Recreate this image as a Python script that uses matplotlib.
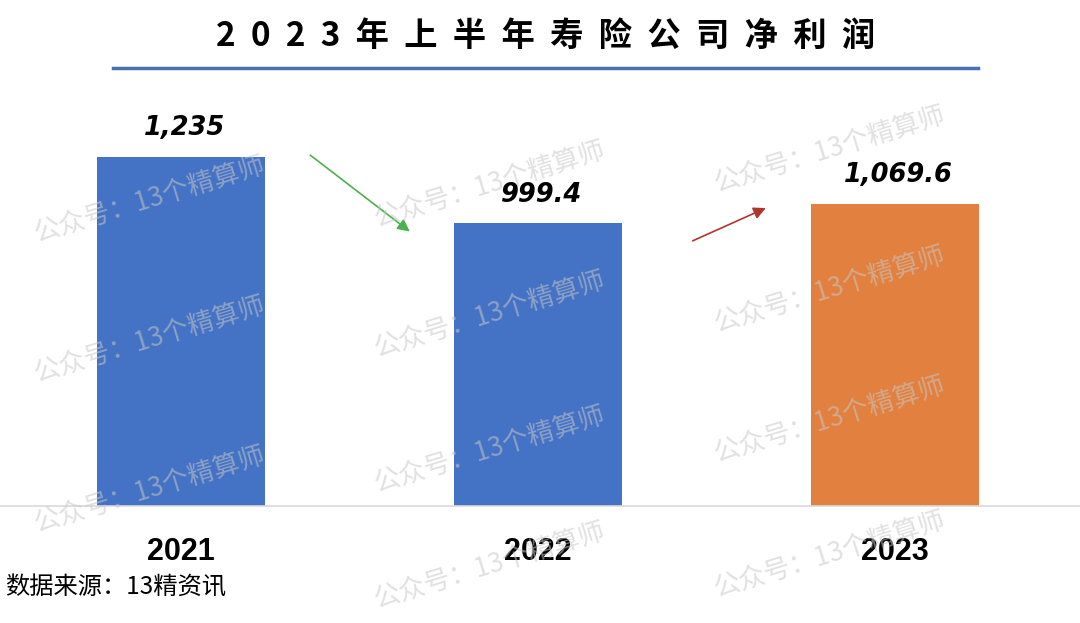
import matplotlib.pyplot as plt

plt.rcParams['font.family'] = ['Noto Sans CJK SC', 'DejaVu Sans']

# 数据
years = ["2021", "2022", "2023"]
profits = [1235, 999.4, 1069.6]
value_labels = ["1,235", "999.4", "1,069.6"]
bar_colors = ["#4472C4", "#4472C4", "#E2803F"]

title = "2023年上半年寿险公司净利润"
source = "数据来源：13精资讯"
watermark = "公众号：13个精算师"

fig = plt.figure(figsize=(10.8, 6.23), dpi=100)
ax = fig.add_axes([0, 117 / 623, 1, 426 / 623])

x = list(range(len(years)))
ax.bar(x, profits, width=0.47, color=bar_colors, zorder=2)
ax.set_xlim(-0.507, 2.518)
ax.set_ylim(0, 1507)

for xi, v, lab in zip(x, profits, value_labels):
    ax.text(xi + 0.01, v + 55, lab, ha="center", va="bottom", fontsize=18.5,
            fontweight="bold", fontstyle="italic", family="DejaVu Sans", zorder=4)

for s in ["top", "left", "right"]:
    ax.spines[s].set_visible(False)
ax.spines["bottom"].set_color("#d9d9d9")
ax.spines["bottom"].set_linewidth(1.2)
ax.set_yticks([])
ax.set_xticks(x)
ax.set_xticklabels(years, fontsize=22, fontweight="bold", family="Liberation Sans")
ax.tick_params(axis="x", length=0, pad=22)

# 趋势箭头
ax.annotate("", xy=(0.647, 965), xytext=(0.356, 1247),
            arrowprops=dict(arrowstyle="-|>", color="#4CAF50", lw=1.2, mutation_scale=18))
ax.annotate("", xy=(1.645, 1058), xytext=(1.426, 934),
            arrowprops=dict(arrowstyle="-|>", color="#B0362C", lw=1.2, mutation_scale=18))

# 标题
fig.text(0.505, 1 - 36 / 623, "  ".join(title[:4]) + "  " + "  ".join(title[4:]),
         ha="center", va="center", fontsize=24, fontweight="bold")
fig.add_artist(plt.Line2D([113 / 1080, 978 / 1080], [1 - 68 / 623] * 2,
                          color="#4A6FB5", lw=2.5))

fig.text(5 / 1080, 1 - 588 / 623, source, ha="left", va="center", fontsize=17.5)

# 水印
wm_pos = [(150, 200), (150, 340), (150, 490),
          (490, 185), (490, 315), (490, 450), (490, 566),
          (830, 150), (830, 290), (830, 420), (830, 555)]
for px, py in wm_pos:
    fig.text(px / 1080, 1 - py / 623, watermark, ha="center", va="center",
             fontsize=19, rotation=17, color="#c8c8c8", alpha=0.55, zorder=5)

fig.savefig("out.png", dpi=100)
